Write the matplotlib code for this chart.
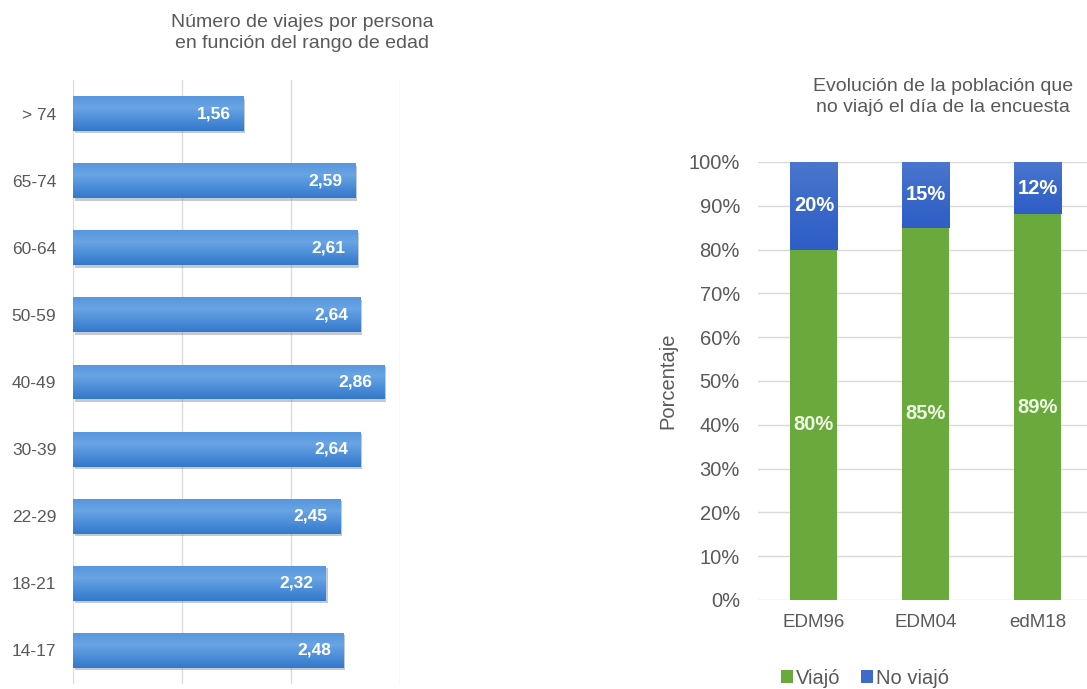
import numpy as np
import matplotlib.pyplot as plt
import matplotlib.patheffects as pe
from matplotlib.colors import LinearSegmentedColormap

plt.rcParams['font.family'] = ['Liberation Sans', 'DejaVu Sans']

# trips per person by age band (top to bottom)
age_groups = ['> 74', '65-74', '60-64', '50-59', '40-49', '30-39', '22-29', '18-21', '14-17']
trips = [1.56, 2.59, 2.61, 2.64, 2.86, 2.64, 2.45, 2.32, 2.48]

# share of population that travelled / did not travel on survey day
surveys = ['EDM96', 'EDM04', 'edM18']
travelled = [80, 85, 89]
not_travelled = [20, 15, 12]

grey = '#595959'
bar_blue = '#4a8dd8'
green = '#6aaa3c'
dark_blue = '#3d6cc8'

bar_grad = LinearSegmentedColormap.from_list('bar_grad', ['#5797de', '#69a4e3', '#4c8ed9', '#3479c9'])
blue_grad = LinearSegmentedColormap.from_list('blue_grad', ['#4a76cd', '#3a69c9', '#2e5ec6'])
ramp = np.linspace(0, 1, 64).reshape(-1, 1)


def fill_gradient(ax, patch, cmap, inverted):
    x0, y0 = patch.get_x(), patch.get_y()
    w, h = patch.get_width(), patch.get_height()
    ext = (x0, x0 + w, y0 + h, y0) if inverted else (x0, x0 + w, y0, y0 + h)
    im = ax.imshow(ramp, extent=ext, cmap=cmap, aspect='auto', origin='upper',
                   interpolation='bilinear', zorder=3.5)
    im.set_clip_path(patch)


fig = plt.figure(figsize=(10.87, 6.89), dpi=100)

# --- left: horizontal bars ---
ax1 = fig.add_axes([0.0672, 0.0073, 0.3008, 0.8766])
y = np.arange(len(age_groups))
bars = ax1.barh(y, trips, height=0.52, color=bar_blue, linewidth=0, zorder=3)
for b in bars:
    b.set_path_effects([pe.SimplePatchShadow(offset=(1.2, -1.8), shadow_rgbFace='#7a8aa0',
                                             alpha=0.45), pe.Normal()])
    fill_gradient(ax1, b, bar_grad, inverted=True)
for yi, v in zip(y, trips):
    ax1.annotate(f"{v:.2f}".replace('.', ','), (v, yi), xytext=(-9, 0),
                 textcoords='offset points', ha='right', va='center',
                 color='white', fontsize=12.5, fontweight='bold', zorder=4)
ax1.set_xlim(0, 3)
ax1.set_ylim(len(age_groups) - 0.5, -0.5)
ax1.set_xticks([0, 1, 2, 3])
ax1.xaxis.grid(True, color='#dcdcdc', linewidth=1.0, zorder=0)
ax1.set_axisbelow(True)
ax1.set_yticks(y)
ax1.set_yticklabels(age_groups)
ax1.tick_params(axis='y', length=0, pad=12, labelsize=12.5, labelcolor=grey)
ax1.tick_params(axis='x', length=0, labelbottom=False)
for s in ax1.spines.values():
    s.set_visible(False)
fig.text(302 / 1087, 1 - 33 / 689, 'Número de viajes por persona\nen función del rango de edad',
         ha='center', va='center', fontsize=14, color=grey, linespacing=1.25)

# --- right: 100% stacked columns ---
ax2 = fig.add_axes([0.6973, 0.1292, 0.3091, 0.6357])
x = np.arange(len(surveys))
tot = np.array(travelled) + np.array(not_travelled)
h_trav = np.array(travelled) / tot * 100
h_not = np.array(not_travelled) / tot * 100
ax2.bar(x, h_trav, width=0.42, color=green, label='Viajó', zorder=3)
tops = ax2.bar(x, h_not, width=0.42, bottom=h_trav, color=dark_blue, label='No viajó', zorder=3)
for b in tops:
    fill_gradient(ax2, b, blue_grad, inverted=False)
for xi, ht, hn, vt, vn in zip(x, h_trav, h_not, travelled, not_travelled):
    ax2.text(xi, ht / 2, f"{vt}%", ha='center', va='center', color='#eef7e4',
             fontsize=14.5, fontweight='bold', zorder=4)
    ax2.text(xi, ht + hn / 2, f"{vn}%", ha='center', va='center', color='white',
             fontsize=14.5, fontweight='bold', zorder=4)
ax2.set_xlim(-0.5, 2.5)
ax2.set_ylim(0, 100)
ax2.set_yticks(np.arange(0, 101, 10))
ax2.set_yticklabels([f"{t}%" for t in range(0, 101, 10)])
ax2.yaxis.grid(True, color='#d9d9d9', linewidth=1.0, zorder=0)
ax2.set_axisbelow(True)
ax2.set_xticks(x)
ax2.set_xticklabels(surveys)
ax2.tick_params(axis='y', length=0, pad=13, labelsize=14.5, labelcolor=grey)
ax2.tick_params(axis='x', length=0, pad=10, labelsize=13.5, labelcolor=grey)
for s in ax2.spines.values():
    s.set_visible(False)
ax2.set_ylabel('Porcentaje', fontsize=14.5, color=grey, labelpad=8)
fig.text(943 / 1087, 1 - 97 / 689, 'Evolución de la población que\nno viajó el día de la encuesta',
         ha='center', va='center', fontsize=14, color=grey, linespacing=1.25)

handles, labels = ax2.get_legend_handles_labels()
fig.legend(handles, labels, loc='center', bbox_to_anchor=(865 / 1087, 1 - 678 / 689),
           ncol=2, frameon=False, fontsize=14.5, handlelength=0.6, handleheight=0.6,
           handletextpad=0.15, columnspacing=1.0, labelcolor=grey)

fig.savefig('out.png', dpi=100)
